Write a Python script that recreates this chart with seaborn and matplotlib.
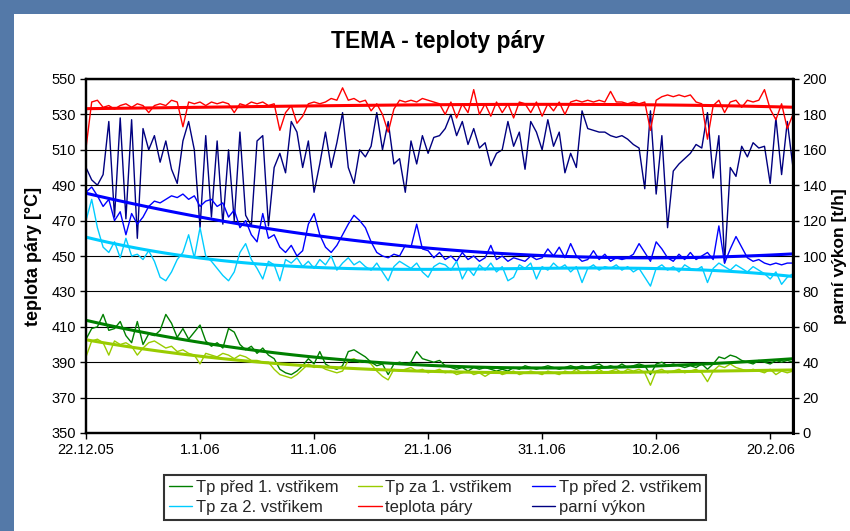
import numpy as np
import pandas as pd
import matplotlib
matplotlib.use('Agg')
import matplotlib.pyplot as plt
from matplotlib.patches import Rectangle
import seaborn as sns

# Hodnoty, krok 0.5 dne od 22.12.2005
tp_pred1 = [403, 409, 410, 417, 408, 409, 413, 405, 401, 413,
            400, 406, 405, 408, 417, 412, 404, 409, 403, 407,
            411, 402, 399, 401, 398, 409, 407, 400, 397, 399,
            395, 398, 394, 392, 386, 384, 383, 385, 388, 392,
            389, 396, 389, 387, 386, 388, 396, 397, 395, 393,
            390, 388, 389, 383, 389, 390, 389, 390, 396, 392,
            391, 390, 391, 388, 387, 386, 387, 385, 387, 386,
            387, 386, 385, 386, 385, 387, 386, 388, 387, 386,
            387, 388, 387, 386, 387, 388, 387, 388, 387, 388,
            389, 387, 388, 387, 389, 387, 388, 389, 388, 383,
            389, 390, 388, 389, 388, 387, 388, 387, 389, 386,
            389, 393, 392, 394, 393, 391, 390, 389, 391, 390,
            389, 391, 390, 391, 390]
tp_za1 = [393, 402, 403, 401, 394, 402, 400, 401, 399, 394,
          398, 401, 402, 400, 398, 399, 396, 397, 395, 394,
          389, 395, 394, 393, 395, 394, 392, 394, 393, 391,
          391, 390, 390, 386, 383, 382, 381, 383, 386, 389,
          387, 388, 386, 385, 384, 385, 391, 392, 390, 391,
          389, 385, 382, 380, 386, 385, 386, 387, 385, 386,
          384, 385, 386, 384, 385, 383, 384, 385, 383, 384,
          382, 384, 385, 383, 384, 385, 383, 384, 385, 384,
          383, 385, 384, 383, 385, 384, 386, 384, 385, 384,
          386, 384, 385, 386, 384, 386, 385, 386, 384, 377,
          385, 386, 384, 385, 386, 384, 385, 386, 384, 379,
          385, 388, 387, 389, 387, 386, 385, 386, 385, 384,
          386, 383, 385, 384, 385]
tp_pred2 = [486, 489, 484, 478, 482, 470, 475, 462, 474, 468,
            472, 478, 481, 480, 482, 484, 483, 485, 482, 484,
            478, 481, 482, 478, 480, 472, 476, 466, 470, 462,
            458, 474, 460, 462, 455, 452, 456, 450, 453, 468,
            474, 462, 455, 452, 456, 462, 468, 473, 470, 466,
            458, 452, 450, 449, 451, 450, 456, 455, 468, 454,
            453, 449, 452, 448, 450, 447, 452, 448, 450, 447,
            449, 456, 448, 450, 447, 449, 448, 447, 450, 448,
            449, 454, 450, 455, 449, 457, 450, 447, 448, 453,
            448, 451, 447, 449, 448, 449, 451, 457, 452, 447,
            458, 454, 449, 447, 451, 448, 452, 448, 450, 452,
            448, 467, 446, 454, 461, 455, 449, 447, 448, 446,
            445, 446, 445, 446, 446]
tp_za2 = [470, 482, 466, 455, 452, 458, 449, 460, 450, 451,
          448, 453, 447, 438, 436, 441, 448, 452, 462, 449,
          466, 450, 447, 443, 439, 436, 441, 452, 457, 448,
          443, 437, 447, 445, 436, 448, 446, 449, 444, 447,
          443, 448, 445, 450, 442, 446, 449, 445, 447, 444,
          442, 446, 441, 436, 444, 447, 445, 443, 446, 441,
          438, 444, 446, 445, 442, 447, 437, 443, 439, 445,
          442, 446, 441, 444, 436, 438, 445, 443, 446, 437,
          444, 442, 446, 443, 445, 441, 444, 435, 443, 445,
          442, 444, 443, 445, 442, 444, 441, 443, 438, 433,
          443, 445, 442, 444, 441, 445, 443, 442, 444, 435,
          443, 446, 444, 442, 445, 443, 441, 444, 442, 440,
          437, 441, 434, 438, 440]
teplota_pary = [511, 537, 538, 534, 535, 533, 535, 536, 534, 536,
                535, 531, 535, 536, 535, 538, 537, 523, 537, 536,
                537, 535, 537, 536, 537, 536, 531, 536, 535, 537,
                536, 537, 535, 536, 521, 531, 535, 525, 529, 536,
                537, 536, 537, 539, 538, 545, 538, 539, 537, 538,
                532, 536, 530, 520, 533, 538, 537, 538, 537, 539,
                538, 537, 536, 530, 537, 528, 536, 531, 544, 530,
                536, 529, 537, 531, 536, 528, 537, 536, 531, 537,
                529, 536, 532, 537, 530, 537, 538, 537, 538, 537,
                538, 537, 543, 537, 537, 536, 537, 536, 537, 521,
                538, 540, 541, 540, 541, 540, 541, 537, 536, 516,
                535, 538, 531, 537, 538, 534, 538, 537, 538, 544,
                533, 527, 536, 522, 530]
parni_vykon = [150, 143, 140, 146, 176, 122, 178, 121, 177, 110,
               172, 160, 168, 153, 165, 149, 141, 165, 176, 160,
               116, 168, 122, 165, 118, 160, 120, 170, 123, 117,
               165, 168, 117, 150, 158, 147, 176, 170, 150, 165,
               136, 152, 170, 150, 164, 181, 150, 141, 160, 156,
               162, 181, 160, 176, 152, 155, 136, 165, 152, 168,
               158, 167, 168, 172, 180, 168, 176, 163, 172, 161,
               164, 151, 158, 160, 176, 162, 170, 149, 176, 170,
               160, 177, 162, 170, 147, 158, 150, 182, 172, 171,
               170, 170, 168, 167, 168, 166, 163, 161, 138, 182,
               135, 168, 116, 148, 152, 155, 158, 163, 161, 181,
               144, 168, 96, 150, 145, 162, 156, 164, 161, 162,
               141, 178, 146, 176, 150]

tick_days = [0, 10, 20, 30, 40, 50, 60]
tick_labels = ['22.12.05', '1.1.06', '11.1.06', '21.1.06', '31.1.06', '10.2.06', '20.2.06']

df = pd.DataFrame({
    'tp_pred1': tp_pred1,
    'tp_za1': tp_za1,
    'tp_pred2': tp_pred2,
    'tp_za2': tp_za2,
    'teplota': teplota_pary,
    'vykon': parni_vykon,
})
df['den'] = np.arange(len(df)) * 0.5

sns.set_theme(style='white')
plt.rcParams['font.family'] = ['Liberation Sans', 'DejaVu Sans']

fig = plt.figure(figsize=(8.5, 5.31), dpi=100, facecolor='#5479a8')
fig.add_artist(Rectangle((14 / 850, 0), 1, 1 - 14 / 531, transform=fig.transFigure,
                         facecolor='white', edgecolor='none', zorder=-1))

ax = fig.add_axes([86 / 850, 1 - 433 / 531, 707 / 850, 354 / 531])
ax2 = ax.twinx()
ax.set_zorder(ax2.get_zorder() + 1)
ax.patch.set_visible(False)

# sekundární osa - parní výkon
sns.lineplot(data=df, x='den', y='vykon', color='#000080', lw=1.0, ax=ax2,
             label='parní výkon', legend=False)

series = [
    ('tp_pred1', 'Tp před 1. vstřikem', '#008000'),
    ('tp_za1', 'Tp za 1. vstřikem', '#99cc00'),
    ('tp_pred2', 'Tp před 2. vstřikem', '#0000ff'),
    ('tp_za2', 'Tp za 2. vstřikem', '#00ccff'),
    ('teplota', 'teplota páry', '#ff0000'),
]
for col, name, color in series:
    sns.lineplot(data=df, x='den', y=col, color=color, lw=1.0, ax=ax,
                 label=name, legend=False)
for col, name, color in series:
    # polynomický trend
    sns.regplot(data=df, x='den', y=col, order=3, scatter=False, ci=None,
                color=color, line_kws={'lw': 2.2}, ax=ax)

ax.set_xlim(0, 62)
ax.set_ylim(350, 550)
ax.set_yticks(range(350, 551, 20))
ax2.set_ylim(0, 200)
ax2.set_yticks(range(0, 201, 20))
ax.set_xticks(tick_days)
ax.set_xticklabels(tick_labels)

ax.yaxis.grid(True, color='black', lw=0.8)
ax.xaxis.grid(False)
ax2.grid(False)

for a in (ax, ax2):
    for s in a.spines.values():
        s.set_color('black')
        s.set_linewidth(1.6)
ax2.spines['right'].set_linewidth(2.2)

ax.tick_params(axis='both', direction='out', length=4, width=1, color='black',
               bottom=True, left=True, labelsize=10.5, labelcolor='black', pad=3)
ax2.tick_params(axis='y', direction='out', length=4, width=1, color='black',
                right=True, labelsize=10.5, labelcolor='black', pad=3)

ax.set_xlabel('')
ax.set_ylabel('teplota páry [°C]', fontsize=13, fontweight='bold', color='black')
ax.yaxis.set_label_coords(-0.062, 0.5)
ax2.set_ylabel('parní výkon [t/h]', fontsize=12.5, fontweight='bold', color='black')
ax2.yaxis.set_label_coords(1.055, 0.5)

fig.text(0.515, 0.922, 'TEMA - teploty páry', ha='center', va='center',
         fontsize=16.5, fontweight='bold', color='black')

h1, l1 = ax.get_legend_handles_labels()
h2, l2 = ax2.get_legend_handles_labels()
handles = h1 + h2
labels = l1 + l2
order = [0, 3, 1, 4, 2, 5]
leg = fig.legend([handles[i] for i in order], [labels[i] for i in order],
                 loc='center', bbox_to_anchor=(0.512, 0.063), ncol=3,
                 fontsize=12, frameon=True, fancybox=False, handlelength=1.4,
                 handletextpad=0.2, columnspacing=1.2, labelspacing=0.3,
                 borderpad=0.3)
leg.get_frame().set_edgecolor('black')
leg.get_frame().set_linewidth(1.5)

fig.savefig('out.png', dpi=100, facecolor=fig.get_facecolor())
